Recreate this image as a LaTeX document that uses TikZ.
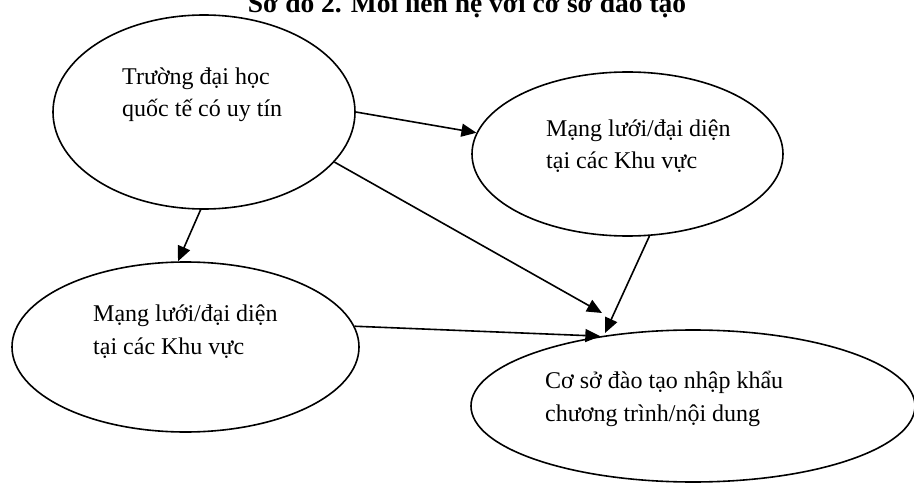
\documentclass[tikz,border=0pt]{standalone}
\usepackage{fontspec}
\setmainfont{Liberation Serif}
\usetikzlibrary{arrows.meta,shapes.geometric}
\begin{document}
\begin{tikzpicture}[x=1pt,y=-1pt,
  bubble/.style={ellipse, draw, line width=1.6pt, inner sep=0pt},
  lbl/.style={anchor=base west, inner sep=0pt, align=left,
    font=\fontsize{24}{32.5}\selectfont},
  link/.style={line width=1.6pt, -{Triangle[length=15pt,width=13pt]}}]
  \useasboundingbox (0,0) rectangle (914,484);
  \clip (0,0) rectangle (914,484);

  % title
  \node[anchor=base, inner sep=0pt, font=\fontsize{27.5}{33}\selectfont\bfseries]
    (title) at (467,12.5) {Sơ đồ 2. Mối liên hệ với cơ sở đào tạo};

  % ellipses
  \node[bubble, minimum width=302pt, minimum height=194pt] (e1) at (204,112) {};
  \node[bubble, minimum width=311pt, minimum height=164pt] (e2) at (627.5,154) {};
  \node[bubble, minimum width=347pt, minimum height=170pt] (e3) at (185.5,347) {};
  \node[bubble, minimum width=444pt, minimum height=152pt] (e4) at (693,406) {};

  % texts (anchored on the baseline of their last line)
  \node[lbl] (t1) at (122,117) {Trường đại học\\quốc tế có uy tín};
  \node[lbl] (t2) at (546,169) {Mạng lưới/đại diện\\tại các Khu vực};
  \node[lbl] (t3) at (93,354) {Mạng lưới/đại diện\\tại các Khu vực};
  \node[lbl] (t4) at (545,421) {Cơ sở đào tạo nhập khẩu\\chương trình/nội dung};

  % arrow ends short of the lower ellipse
  \coordinate (c2) at (602,313);
  \coordinate (c4) at (605,333);

  % connectors
  \draw[link] (e1.east) -- (e2.172);
  \draw[link] (e1.-21) -- (c2);
  \draw[link] (e1.-92) -- (e3.95);
  \draw[link] (e2.-75) -- (c4);
  \draw[link] (e3.7) -- (e4.143);
\end{tikzpicture}
\end{document}
